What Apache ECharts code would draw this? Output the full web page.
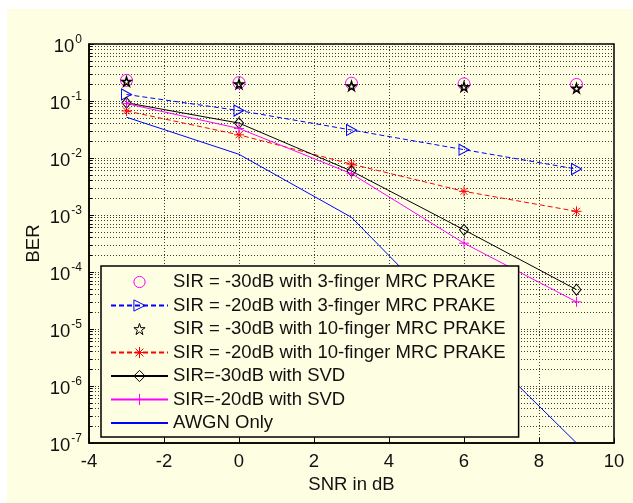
<!DOCTYPE html>
<html>
<head>
<meta charset="utf-8">
<script src="https://cdn.jsdelivr.net/npm/echarts@6/dist/echarts.min.js"></script>
<style>
html,body{margin:0;padding:0;background:#fff;}
#bg{position:absolute;left:7px;top:9px;width:626px;height:494px;background:#FEFEE3;}
#chart{position:absolute;left:0;top:0;width:633px;height:503px;}
</style>
</head>
<body>
<div id="bg"></div>
<div id="chart"></div>
<script>
// ---- data ----
const snr = [-3, 0, 3, 6, 9];
const sir30_3f = [0.23, 0.21, 0.205, 0.2, 0.195];
const sir20_3f = [0.13, 0.068, 0.031, 0.014, 0.0064];
const sir30_10f = [0.22, 0.198, 0.183, 0.178, 0.167];
const sir20_10f = [0.067, 0.0255, 0.0078, 0.0026, 0.00116];
const sir30_svd = [0.093, 0.041, 0.0059, 0.00055, 0.000049];
const sir20_svd = [0.09, 0.033, 0.0053, 0.00032, 0.00003];
const awgn = [0.052, 0.0116, 0.00091, 0.0000088, 0.0000001];
const seriesNames = [
  'SIR = -30dB with 3-finger MRC PRAKE',
  'SIR = -20dB with 3-finger MRC PRAKE',
  'SIR = -30dB with 10-finger MRC PRAKE',
  'SIR = -20dB with 10-finger MRC PRAKE',
  'SIR=-30dB with SVD',
  'SIR=-20dB with SVD',
  'AWGN Only'
];
const xTicks = {min: -4, max: 10, interval: 2};
const yDecades = {min: 1e-7, max: 1};

const pair = (ys) => snr.map((x, i) => [x, ys[i]]);
const FONT = 'Liberation Sans, Arial, sans-serif';
const starPath = 'path://M50,0L61.23,34.55L97.55,34.55L68.17,55.9L79.39,90.45L50,69.1L20.61,90.45L31.83,55.9L2.45,34.55L38.77,34.55Z';
const astPath = 'path://M5,0L5,10M0,5L10,5M1.5,1.5L8.5,8.5M8.5,1.5L1.5,8.5';
const plusPath = 'path://M5,0L5,10M0,5L10,5';
const triPath = 'path://M0,0L10,5L0,10Z';

function mk(name, ys, color, symbol, size, lineType, showLine, bw) {
  return {
    name: name,
    type: 'line',
    data: pair(ys),
    color: color,
    symbol: symbol,
    symbolSize: size,
    showSymbol: symbol !== 'none',
    lineStyle: {color: color, width: 1, type: lineType, opacity: showLine ? 1 : 0},
    itemStyle: {color: 'none', borderColor: color, borderWidth: bw || 1},
    emphasis: {disabled: true},
    z: 3
  };
}

const gridLine = {color: '#3a3a3a', type: [1, 2], width: 1};

const chart = echarts.init(document.getElementById('chart'), null, {renderer: 'canvas'});
const option = {
  backgroundColor: 'transparent',
  animation: false,
  textStyle: {fontFamily: FONT},
  grid: {left: 89, top: 44, right: 19, bottom: 60, show: true, borderColor: '#000', borderWidth: 1.5, backgroundColor: 'transparent'},
  xAxis: {
    type: 'value', min: xTicks.min, max: xTicks.max, interval: xTicks.interval,
    name: 'SNR in dB', nameLocation: 'middle', nameGap: 30,
    nameTextStyle: {fontSize: 18.5, color: '#111', fontFamily: FONT},
    axisLine: {show: true, onZero: false, lineStyle: {color: '#000', width: 1.5}},
    axisTick: {show: true, inside: true, length: 5, lineStyle: {color: '#000'}},
    axisLabel: {fontSize: 18.5, color: '#111', margin: 9, fontFamily: FONT},
    splitLine: {show: true, lineStyle: gridLine}
  },
  yAxis: {
    type: 'log', logBase: 10, min: yDecades.min, max: yDecades.max,
    name: 'BER', nameLocation: 'middle', nameGap: 46, nameMoveOverlap: false,
    nameTextStyle: {fontSize: 18.5, color: '#111', fontFamily: FONT},
    axisLine: {show: true, onZero: false, lineStyle: {color: '#000', width: 1.5}},
    axisTick: {show: true, inside: true, length: 5, lineStyle: {color: '#000'}},
    minorTick: {show: true, splitNumber: 9, length: 3, lineStyle: {color: '#000'}},
    minorSplitLine: {show: true, lineStyle: gridLine},
    axisLabel: {
      margin: 7, color: '#111',
      formatter: function (v) {
        const e = Math.round(Math.log10(v));
        return '{a|10}{b|' + e + '}';
      },
      rich: {
        a: {fontSize: 18.5, color: '#111', fontFamily: FONT, padding: [6, 0, 0, 0]},
        b: {fontSize: 12, color: '#111', fontFamily: FONT, verticalAlign: 'top', padding: [2, 0, 0, 1]}
      }
    },
    splitLine: {show: true, lineStyle: gridLine}
  },
  legend: {
    orient: 'vertical', left: 101, top: 266,
    padding: [6, 13, 4, 9], itemGap: 3.5, itemWidth: 57, itemHeight: 14,
    backgroundColor: '#FEFEE3', borderColor: '#000', borderWidth: 1.5,
    textStyle: {fontSize: 18.5, color: '#111', fontFamily: FONT, lineHeight: 20},
    itemStyle: {borderWidth: 1},
    selectedMode: false,
    data: seriesNames.map((n, i) => i === 6 ? {name: n, itemStyle: {color: 'none', borderWidth: 0, borderColor: 'none'}} : {name: n}),
    z: 10
  },
  series: [
    mk(seriesNames[0], sir30_3f, '#FF00FF', 'circle', 12, 'solid', false),
    mk(seriesNames[1], sir20_3f, '#0000FF', triPath, [10, 11], [5, 3], true),
    mk(seriesNames[2], sir30_10f, '#000000', starPath, 9, 'solid', false, 1.5),
    mk(seriesNames[3], sir20_10f, '#FF0000', astPath, 10, [5, 3], true),
    mk(seriesNames[4], sir30_svd, '#000000', 'diamond', [9, 11], 'solid', true),
    mk(seriesNames[5], sir20_svd, '#FF00FF', plusPath, 10, 'solid', true),
    Object.assign(mk(seriesNames[6], awgn, '#0000FF', 'none', 1, 'solid', true), {itemStyle: {color: 'none', borderWidth: 0, borderColor: 'none'}})
  ]
};
chart.setOption(option);
</script>
</body>
</html>
